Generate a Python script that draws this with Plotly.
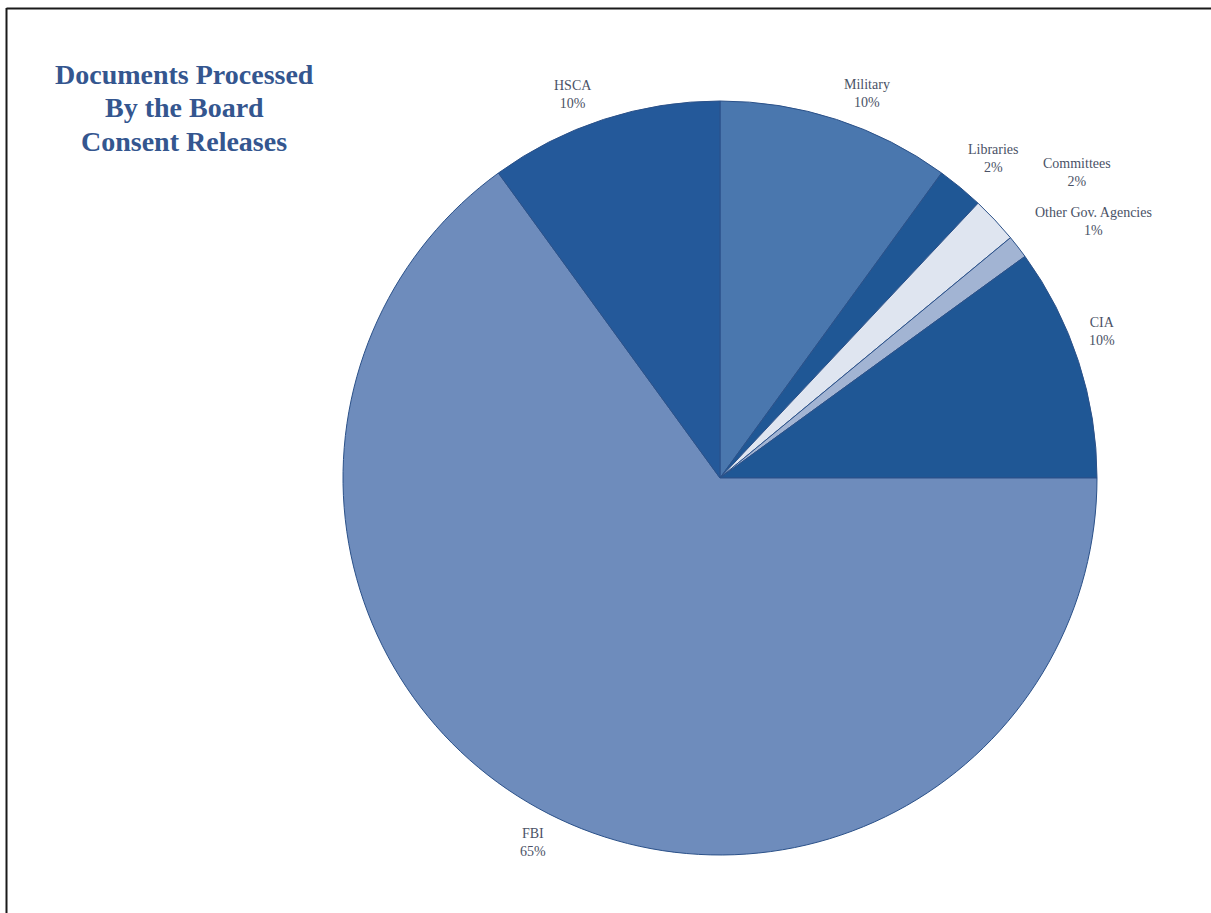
import plotly.graph_objects as go

W, H = 1211, 913

# ---- data ----
categories = ["Military", "Libraries", "Committees", "Other Gov. Agencies", "CIA", "FBI", "HSCA"]
percents = [10, 2, 2, 1, 10, 65, 10]
slice_colors = ["#4a77ae", "#1f5795", "#dfe5f0", "#a2b4d3", "#1f5795", "#6e8cbc", "#24599a"]
title_lines = ["Documents Processed", "By the Board", "Consent Releases"]

# label anchor positions (pixels, layout only)
label_pos = {
    "Military": (867, 93),
    "Libraries": (993, 158),
    "Committees": (1077, 173),
    "Other Gov. Agencies": (1093, 221),
    "CIA": (1102, 331),
    "FBI": (533, 842),
    "HSCA": (573, 95),
}
title_y = [75, 108, 141]

cx, cy, r = 720, 478, 377

fig = go.Figure(go.Pie(
    labels=categories,
    values=percents,
    sort=False,
    direction="clockwise",
    rotation=0,
    marker=dict(colors=slice_colors, line=dict(color="#2b5189", width=1)),
    textinfo="none",
    hoverinfo="label+percent",
    showlegend=False,
    domain=dict(x=[(cx - r) / W, (cx + r) / W], y=[(H - cy - r) / H, (H - cy + r) / H]),
))

annotations = []
for cat, p in zip(categories, percents):
    px, py = label_pos[cat]
    annotations.append(dict(
        x=px / W, y=1 - py / H, xref="paper", yref="paper",
        text=f"{cat}<br>{p}%", showarrow=False, align="center",
        xanchor="center", yanchor="middle",
        font=dict(family="Liberation Serif", size=14, color="#4a5266"),
    ))

for line, ty in zip(title_lines, title_y):
    annotations.append(dict(
        x=184 / W, y=1 - ty / H, xref="paper", yref="paper",
        text=f"<b>{line}</b>",
        showarrow=False, align="center", xanchor="center", yanchor="middle",
        font=dict(family="Liberation Serif", size=28, color="#34568f"),
    ))

shapes = [
    dict(type="line", xref="paper", yref="paper", x0=6.5 / W, x1=6.5 / W, y0=0, y1=1 - 8 / H,
         line=dict(color="#1a1a1a", width=2)),
    dict(type="line", xref="paper", yref="paper", x0=6.5 / W, x1=1, y0=1 - 8.5 / H, y1=1 - 8.5 / H,
         line=dict(color="#1a1a1a", width=2)),
]

fig.update_layout(
    width=W, height=H,
    margin=dict(l=0, r=0, t=0, b=0),
    paper_bgcolor="white", plot_bgcolor="white",
    annotations=annotations, shapes=shapes,
)

fig.write_html(
    "out.html",
    config={"displayModeBar": False},
    post_script="document.body.style.margin='0px';document.body.style.overflow='hidden';",
)
